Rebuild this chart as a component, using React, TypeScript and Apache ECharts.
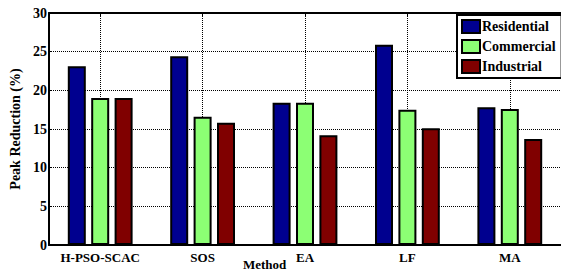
import React, { useEffect, useRef } from "react";
import * as echarts from "echarts";

const categories = ["H-PSO-SCAC", "SOS", "EA", "LF", "MA"];
const residential = [23.1, 24.4, 18.4, 25.9, 17.8];
const commercial = [19.0, 16.6, 18.4, 17.5, 17.6];
const industrial = [19.0, 15.8, 14.2, 15.1, 13.7];
const seriesNames = ["Residential", "Commercial", "Industrial"];
const colors = ["#00008f", "#8cff74", "#800000"];

const font = "'Liberation Serif', 'Times New Roman', serif";

export default function App() {
  const ref = useRef<HTMLDivElement>(null);
  useEffect(() => {
    if (!ref.current) return;
    const chart = echarts.init(ref.current, null, { renderer: "svg" });
    const data = [residential, commercial, industrial];
    const dotted = { color: "#000", type: "dotted", width: 1 };
    chart.setOption({
      animation: false,
      backgroundColor: "#ffffff",
      grid: { left: 45, right: -3, top: 13, bottom: 26, containLabel: false },
      legend: {
        orient: "vertical",
        left: 457,
        top: 15,
        width: 103,
        padding: [4, 6, 4, 4],
        itemWidth: 18,
        itemHeight: 13,
        itemGap: 5,
        borderColor: "#000",
        borderWidth: 2,
        backgroundColor: "#fff",
        icon: "rect",
        textStyle: { fontFamily: font, fontWeight: "bold", fontSize: 14, color: "#000", padding: [0, 0, 0, -3] },
        data: seriesNames,
      },
      xAxis: [
        {
          type: "category",
          data: categories,
          position: "bottom",
          axisLine: { lineStyle: { color: "#000", width: 2 } },
          axisTick: { show: false },
          axisLabel: { interval: 0, fontFamily: font, fontWeight: "bold", fontSize: 13, color: "#000", margin: 6 },
          splitLine: { show: false },
        },
        {
          type: "category",
          data: categories,
          position: "top",
          axisLine: { lineStyle: { color: "#000", width: 2 } },
          axisTick: { show: true, inside: true, alignWithLabel: true, length: 3, lineStyle: { color: "#000" } },
          axisLabel: { show: false },
        },
      ],
      yAxis: {
        type: "value",
        min: 0,
        max: 30,
        interval: 5,
        name: "Peak Reduction (%)",
        nameLocation: "middle",
        nameGap: 27,
        nameTextStyle: { fontFamily: font, fontWeight: "bold", fontSize: 14, color: "#000" },
        axisLine: { show: true, lineStyle: { color: "#000", width: 2 } },
        axisTick: { show: true, inside: true, length: 3, lineStyle: { color: "#000" } },
        axisLabel: { fontFamily: font, fontWeight: "bold", fontSize: 14, color: "#000", margin: 2 },
        splitLine: { show: true, lineStyle: dotted },
      },
      graphic: [
        {
          type: "text",
          left: 243,
          top: 258,
          style: { text: "Method", fontFamily: font, fontWeight: "bold", fontSize: 13, fill: "#000" },
        },
      ],
      series: [
        {
          name: "grid-v",
          type: "line",
          data: [],
          z: 0,
          silent: true,
          markLine: {
            silent: true,
            z: 0,
            symbol: ["none", "none"],
            label: { show: false },
            lineStyle: dotted,
            data: categories.map((c) => ({ xAxis: c })),
          },
        },
        ...seriesNames.map((name, i) => ({
          name,
          type: "bar",
          data: data[i],
          barWidth: 18,
          barGap: "30%",
          z: 3,
          itemStyle: { color: colors[i], borderColor: "#000", borderWidth: 2 },
        })),
      ],
    });
    return () => chart.dispose();
  }, []);
  return <div ref={ref} style={{ width: 561, height: 271, position: "absolute", left: 0, top: 0 }} />;
}
